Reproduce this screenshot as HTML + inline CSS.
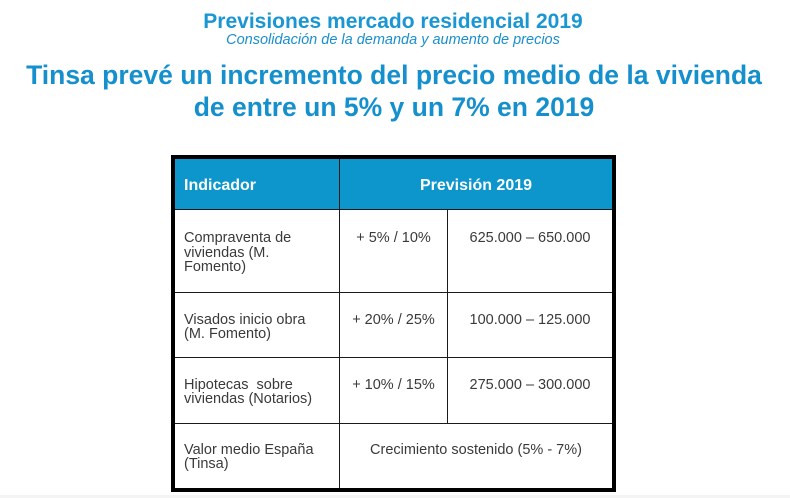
<!DOCTYPE html>
<html>
<head>
<meta charset="utf-8">
<style>
  html, body { margin:0; padding:0; }
  body { width:790px; height:498px; background:#ffffff; position:relative; overflow:hidden;
         font-family:"Liberation Sans", Arial, sans-serif; }
  .abs { position:absolute; white-space:nowrap; }
  .t1 { left:0; width:786px; text-align:center; top:10.5px; font-size:21px; line-height:21px; font-weight:bold; color:#1a96d3; }
  .t2 { left:0; width:786px; text-align:center; top:32.7px; font-size:14.5px; line-height:14.5px; font-style:italic; color:#1a8fcc; }
  .h { left:0; width:788px; text-align:center; font-size:26.5px; line-height:32px; font-weight:bold; color:#1590cd; }
  .box { position:absolute; left:171px; top:155px; width:437px; height:329px; border:4px solid #000; background:#fff; }
  .hdr { position:absolute; left:175px; top:159px; width:437px; height:50px; background:#0c96cc; }
  .hl { position:absolute; height:1px; background:#1a1a1a; }
  .vl { position:absolute; width:1px; background:#1a1a1a; }
  .cell { position:absolute; font-size:14.5px; line-height:14.5px; color:#3a3a3a; white-space:nowrap; }
  .ctr { text-align:center; }
  .hd { position:absolute; font-size:16px; line-height:16px; font-weight:bold; color:#ffffff; white-space:nowrap; }
</style>
</head>
<body>
  <div class="abs t1">Previsiones mercado residencial 2019</div>
  <div class="abs t2">Consolidación de la demanda y aumento de precios</div>
  <div class="abs h" style="top:58.8px;">Tinsa prevé un incremento del precio medio de la vivienda</div>
  <div class="abs h" style="top:90.8px;">de entre un 5% y un 7% en 2019</div>

  <div class="box"></div>
  <div class="hdr"></div>

  <!-- horizontal lines -->
  <div class="hl" style="left:175px; top:209px; width:437px;"></div>
  <div class="hl" style="left:175px; top:292px; width:437px;"></div>
  <div class="hl" style="left:175px; top:357px; width:437px;"></div>
  <div class="hl" style="left:175px; top:423px; width:437px;"></div>

  <!-- vertical lines -->
  <div class="vl" style="left:339px; top:159px; height:329px;"></div>
  <div class="vl" style="left:447px; top:210px; height:213px;"></div>

  <!-- header text -->
  <div class="hd" style="left:184px; top:178px;">Indicador</div>
  <div class="hd ctr" style="left:340px; width:272px; top:178px;">Previsión 2019</div>

  <!-- row 1 -->
  <div class="cell" style="left:184px; top:231px;">Compraventa de<br>viviendas (M.<br>Fomento)</div>
  <div class="cell ctr" style="left:340px; width:107px; top:231px;">+ 5% / 10%</div>
  <div class="cell ctr" style="left:448px; width:164px; top:231px;">625.000 – 650.000</div>

  <!-- row 2 -->
  <div class="cell" style="left:184px; top:312.7px;">Visados inicio obra<br>(M. Fomento)</div>
  <div class="cell ctr" style="left:340px; width:107px; top:312.7px;">+ 20% / 25%</div>
  <div class="cell ctr" style="left:448px; width:164px; top:312.7px;">100.000 – 125.000</div>

  <!-- row 3 -->
  <div class="cell" style="left:184px; top:377.7px;">Hipotecas&nbsp; sobre<br>viviendas (Notarios)</div>
  <div class="cell ctr" style="left:340px; width:107px; top:377.7px;">+ 10% / 15%</div>
  <div class="cell ctr" style="left:448px; width:164px; top:377.7px;">275.000 – 300.000</div>

  <!-- row 4 -->
  <div class="cell" style="left:184px; top:442.7px;">Valor medio España<br>(Tinsa)</div>
  <div class="cell ctr" style="left:340px; width:272px; top:442.7px;">Crecimiento sostenido (5% - 7%)</div>

  <!-- faint bottom edge -->
  <div style="position:absolute; left:0; top:495px; width:790px; height:3px; background:#f4f4f4;"></div>
</body>
</html>
